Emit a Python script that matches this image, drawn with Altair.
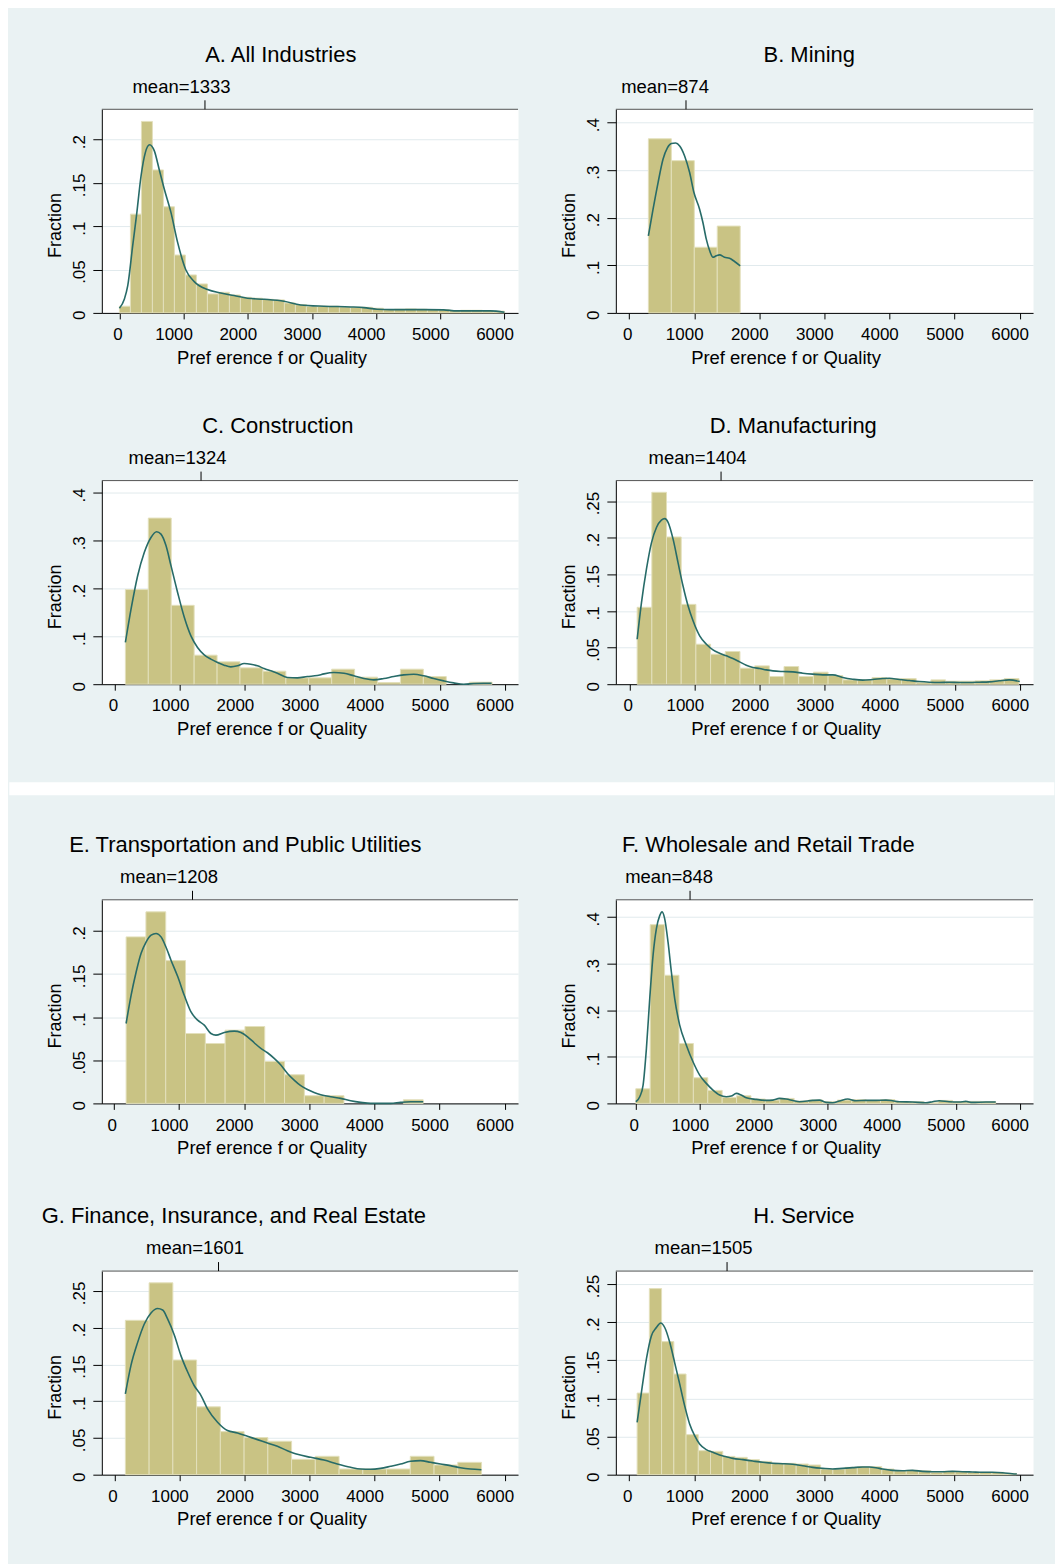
import altair as alt
import pandas as pd

FONT = "Liberation Sans"
BG = "#EAF2F3"
BAR_FILL = "#C9C384"
BAR_EDGE = "#E3E0BC"
KDE_COLOR = "#276B68"
GRID_COLOR = "#E1EAED"

titles = ["A. All Industries", "B. Mining", "C. Construction", "D. Manufacturing",
          "E. Transportation and Public Utilities", "F. Wholesale and Retail Trade",
          "G. Finance, Insurance, and Real Estate", "H. Service"]
means = [1333, 874, 1324, 1404, 1208, 848, 1601, 1505]
x_title = "Pref erence f or Quality"
y_title = "Fraction"
x_ticks = [0, 1000, 2000, 3000, 4000, 5000, 6000]

bin_starts = [0, 296, 159, 113, 189, 0, 169, 123]
bin_widths = [171.4, 352.8, 353, 226, 304, 225, 365, 188]

h_A = [0.0077, 0.114, 0.221, 0.165, 0.1225, 0.0668, 0.0438, 0.0334, 0.0219, 0.0238, 0.0207, 0.018,
       0.017, 0.0157, 0.015, 0.0115, 0.0096, 0.0077, 0.0077, 0.0077, 0.0069, 0.0065, 0.0065, 0.0054,
       0.0038, 0.0042, 0.0046, 0.0042, 0.0038, 0.0035, 0.0027, 0.003, 0.003, 0.0027, 0.002]
h_B = [0.366, 0.320, 0.138, 0.1825]
h_C = [0.198, 0.3475, 0.165, 0.0607, 0.0468, 0.0342, 0.0272, 0.0133, 0.0133, 0.0314, 0.0147, 0.0035,
       0.0314, 0.016, 0.0, 0.0042]
h_D = [0.105, 0.262, 0.201, 0.109, 0.0546, 0.041, 0.0446, 0.0219, 0.025, 0.0105, 0.0241, 0.0105,
       0.0164, 0.0118, 0.0059, 0.0059, 0.0091, 0.0073, 0.0077, 0.0023, 0.0059, 0.0041, 0.0041, 0.0046,
       0.0059, 0.0077]
h_E = [0.193, 0.222, 0.1655, 0.081, 0.0694, 0.0849, 0.0891, 0.0486, 0.0332, 0.0089, 0.0089, 0.0, 0.0,
       0.0, 0.0042]
h_F = [0.0314, 0.3836, 0.275, 0.1286, 0.055, 0.0279, 0.0129, 0.0164, 0.0093, 0.0071, 0.0107, 0.005,
       0.0071, 0.0036, 0.0071, 0.0079, 0.0064, 0.0079, 0.0036, 0.0036, 0.0014, 0.0064, 0.0036, 0.0043,
       0.0036]
h_G = [0.21, 0.261, 0.156, 0.0923, 0.0586, 0.0505, 0.0455, 0.0209, 0.025, 0.0077, 0.0077, 0.0077,
       0.025, 0.0132, 0.0168]
h_H = [0.107, 0.244, 0.1745, 0.132, 0.0525, 0.0315, 0.0306, 0.024, 0.0227, 0.0197, 0.0175, 0.0149,
       0.0149, 0.014, 0.0127, 0.0074, 0.0074, 0.0096, 0.0105, 0.0105, 0.0074, 0.0052, 0.0057, 0.0052,
       0.0031, 0.0044, 0.0039, 0.0031, 0.0031, 0.0031, 0.0017]

kx_A = [0, 78, 130, 207, 269, 337, 404, 471, 544, 622, 699, 803, 907, 1036, 1166, 1373, 1580, 1787,
        1995, 2254, 2565, 2824, 3186, 3601, 3808, 4015, 4223, 4741, 5051, 5259, 5777, 6000]
ky_A = [0.0054, 0.0161, 0.0315, 0.0776, 0.114, 0.158, 0.185, 0.194, 0.187, 0.165, 0.143, 0.116,
        0.0814, 0.0495, 0.0361, 0.0269, 0.0230, 0.0200, 0.0169, 0.0157, 0.0134, 0.0092, 0.0077,
        0.0069, 0.0061, 0.0042, 0.0038, 0.0038, 0.0035, 0.0023, 0.0023, 0.0008]
kx_B = [296, 368, 445, 521, 588, 649, 715, 777, 853, 930, 996, 1083, 1134, 1186, 1237, 1288, 1339,
        1390, 1467, 1543, 1620, 1707]
ky_B = [0.162, 0.218, 0.274, 0.323, 0.347, 0.356, 0.357, 0.351, 0.330, 0.295, 0.253, 0.218, 0.190,
        0.155, 0.131, 0.117, 0.120, 0.122, 0.117, 0.115, 0.108, 0.099]
kx_C = [159, 246, 348, 451, 553, 640, 707, 784, 861, 963, 1066, 1168, 1270, 1373, 1475, 1578, 1680,
        1783, 1885, 1988, 2090, 2193, 2295, 2398, 2500, 2654, 2807, 2961, 3115, 3217, 3371, 3525,
        3678, 3832, 3986, 4139, 4293, 4447, 4600, 4754, 4908, 5062, 5215, 5369, 5523, 5676, 5799]
ky_C = [0.0873, 0.157, 0.227, 0.276, 0.307, 0.319, 0.314, 0.290, 0.248, 0.192, 0.140, 0.101, 0.0768,
        0.0614, 0.0524, 0.0454, 0.0398, 0.0363, 0.0384, 0.0433, 0.0419, 0.0384, 0.0328, 0.0279,
        0.0230, 0.0140, 0.0133, 0.0161, 0.0181, 0.0216, 0.0244, 0.0230, 0.0175, 0.0119, 0.0091,
        0.0119, 0.0161, 0.0195, 0.0209, 0.0175, 0.0119, 0.0070, 0.0028, 0.0, 0.0014, 0.0021, 0.0021]
kx_D = [113, 179, 256, 333, 410, 486, 538, 589, 666, 742, 819, 896, 973, 1075, 1178, 1280, 1382,
        1485, 1587, 1690, 1792, 1894, 1997, 2099, 2202, 2355, 2509, 2662, 2816, 2970, 3123, 3277,
        3430, 3584, 3738, 3891, 3994, 4147, 4301, 4454, 4608, 4762, 4915, 5069, 5222, 5376, 5530,
        5683, 5837, 6001]
ky_D = [0.0614, 0.111, 0.157, 0.193, 0.214, 0.224, 0.226, 0.221, 0.198, 0.166, 0.134, 0.107, 0.0865,
        0.066, 0.0546, 0.0469, 0.0423, 0.0387, 0.035, 0.0305, 0.0259, 0.0228, 0.0214, 0.0196, 0.0182,
        0.0173, 0.0168, 0.0150, 0.0137, 0.0127, 0.0127, 0.0091, 0.0068, 0.0055, 0.0064, 0.0077,
        0.0082, 0.0064, 0.005, 0.0036, 0.0027, 0.0023, 0.0027, 0.0023, 0.0023, 0.0027, 0.0032,
        0.0046, 0.0059, 0.0036]
kx_E = [189, 266, 342, 419, 495, 572, 649, 725, 802, 878, 981, 1083, 1185, 1287, 1389, 1491, 1568,
        1696, 1849, 1951, 2053, 2155, 2257, 2359, 2462, 2564, 2666, 2768, 2870, 2972, 3074, 3177,
        3330, 3483, 3636, 3789, 3943, 4096, 4249, 4402, 4555, 4750]
ky_E = [0.0926, 0.1255, 0.152, 0.174, 0.187, 0.195, 0.197, 0.193, 0.181, 0.166, 0.147, 0.125, 0.106,
        0.0965, 0.0907, 0.081, 0.0791, 0.0822, 0.0838, 0.0822, 0.0772, 0.0703, 0.0637, 0.0587,
        0.0521, 0.0444, 0.0347, 0.027, 0.0205, 0.0162, 0.0127, 0.010, 0.0077, 0.0058, 0.0031, 0.0012,
        0.0, 0.0, 0.0, 0.0012, 0.0019, 0.0019]
kx_F = [0, 62, 114, 166, 218, 270, 322, 374, 411, 452, 504, 556, 608, 686, 790, 894, 998, 1102, 1206,
        1310, 1414, 1492, 1570, 1648, 1726, 1882, 2038, 2142, 2246, 2350, 2454, 2558, 2766, 2870,
        2974, 3078, 3182, 3312, 3442, 3598, 3754, 3910, 4014, 4118, 4326, 4534, 4638, 4742, 4898,
        5054, 5158, 5262, 5470, 5626]
ky_F = [0.0036, 0.0143, 0.0393, 0.118, 0.225, 0.318, 0.375, 0.403, 0.411, 0.396, 0.346, 0.282, 0.225,
        0.168, 0.125, 0.0893, 0.0607, 0.0429, 0.0286, 0.0179, 0.0143, 0.0157, 0.0214, 0.0179, 0.0121,
        0.0086, 0.0064, 0.0071, 0.0107, 0.0093, 0.0064, 0.0036, 0.0064, 0.0071, 0.0021, 0.0014,
        0.005, 0.0093, 0.0057, 0.0064, 0.0064, 0.0071, 0.0057, 0.0036, 0.0029, 0.0014, 0.0036,
        0.0057, 0.0036, 0.0029, 0.0043, 0.0021, 0.0029, 0.0029]
kx_G = [169, 256, 358, 460, 563, 665, 742, 818, 921, 1023, 1125, 1228, 1330, 1432, 1586, 1739, 1893,
        2046, 2199, 2353, 2506, 2660, 2813, 3018, 3222, 3427, 3632, 3785, 3939, 4092, 4245, 4399,
        4552, 4706, 4859, 5013, 5166, 5320, 5473, 5642]
ky_G = [0.110, 0.149, 0.180, 0.205, 0.220, 0.226, 0.224, 0.212, 0.190, 0.162, 0.140, 0.121, 0.108,
        0.0895, 0.0714, 0.060, 0.0568, 0.0523, 0.0477, 0.0432, 0.0386, 0.0327, 0.0277, 0.0236,
        0.020, 0.0145, 0.010, 0.0077, 0.0073, 0.0086, 0.0114, 0.0145, 0.0182, 0.0191, 0.0168,
        0.0145, 0.0123, 0.0095, 0.0077, 0.0068]
kx_H = [123, 189, 266, 342, 419, 485, 547, 623, 700, 777, 853, 930, 1007, 1083, 1186, 1288, 1390,
        1492, 1594, 1748, 1901, 2054, 2208, 2361, 2514, 2667, 2821, 2974, 3127, 3281, 3434, 3587,
        3689, 3792, 3894, 4047, 4200, 4354, 4507, 4660, 4814, 4967, 5120, 5274, 5427, 5580, 5734,
        5887, 5958]
ky_H = [0.0687, 0.108, 0.152, 0.182, 0.193, 0.199, 0.193, 0.174, 0.147, 0.119, 0.0905, 0.0665,
        0.0512, 0.0402, 0.0328, 0.0293, 0.0258, 0.0236, 0.0214, 0.0197, 0.0179, 0.0162, 0.0149,
        0.0144, 0.0136, 0.0118, 0.0096, 0.0083, 0.0074, 0.0083, 0.0092, 0.0101, 0.0101, 0.0092,
        0.0074, 0.0057, 0.0052, 0.0057, 0.0044, 0.0039, 0.0039, 0.0044, 0.0039, 0.0035, 0.0031,
        0.0031, 0.0026, 0.0013, 0.0009]

heights = [h_A, h_B, h_C, h_D, h_E, h_F, h_G, h_H]
kde_x = [kx_A, kx_B, kx_C, kx_D, kx_E, kx_F, kx_G, kx_H]
kde_y = [ky_A, ky_B, ky_C, ky_D, ky_E, ky_F, ky_G, ky_H]

x_domains = [[-274, 6211], [-204, 6207], [-204, 6206], [-215, 6205],
             [-184, 6205], [-312, 6209], [-193, 6205], [-204, 6207]]
y_domains = [[0, 0.235], [0, 0.428], [0, 0.426], [0, 0.278],
             [0, 0.236], [0, 0.437], [0, 0.277], [0, 0.267]]
yt_05 = [0, 0.05, 0.1, 0.15, 0.2]
yt_10 = [0, 0.1, 0.2, 0.3, 0.4]
yt_25 = [0, 0.05, 0.1, 0.15, 0.2, 0.25]
y_ticks = [yt_05, yt_10, yt_10, yt_25, yt_05, yt_10, yt_25, yt_25]

PLOT_H = 204
widths = [417, 418]
title_x = [179.3, 193.8, 176.3, 177.8, 143.8, 152.8, 132.3, 188.3]
TITLE_Y = -47.7
TOP_SPACE = 99


def panel(i):
    w = widths[i % 2]
    xs = alt.Scale(domain=x_domains[i], nice=False, zero=False)
    ys = alt.Scale(domain=y_domains[i], nice=False, zero=True)
    edges = [bin_starts[i] + k * bin_widths[i] for k in range(len(heights[i]) + 1)]
    bars_df = pd.DataFrame({"x0": edges[:-1], "x1": edges[1:], "h": heights[i]})
    bars_df = bars_df[bars_df["h"] > 0]
    kde_df = pd.DataFrame({"x": kde_x[i], "y": kde_y[i]})
    mean_df = pd.DataFrame({"m": [means[i]], "label": [f"mean={means[i]}"]})

    x_axis = alt.Axis(
        orient="bottom", values=x_ticks, format="d", grid=False,
        tickSize=6, tickColor="black", domainColor="black", domainWidth=1,
        labelFont=FONT, labelFontSize=17, labelColor="black",
        labelBaseline="alphabetic", labelPadding=20.7,
        labelOffset={"condition": {"test": "datum.value == 0", "value": -2}, "value": -10},
        labelFlush=False, labelOverlap=False,
        title=x_title, titleFont=FONT, titleFontSize=18.5, titleFontWeight="normal",
        titleColor="black", titleAlign="center", titleBaseline="alphabetic",
        titleX=170, titleY=50.3,
    )
    y_axis = alt.Axis(
        orient="left", values=y_ticks[i],
        labelExpr="datum.value == 0 ? '0' : replace(format(datum.value, '.2~f'), '0.', '.')",
        grid=True, gridColor=GRID_COLOR, gridWidth=1,
        tickSize=9, tickColor="black", domainColor="black", domainWidth=1,
        labelFont=FONT, labelFontSize=17, labelColor="black",
        labelAngle=270, labelAlign="center", labelBaseline="alphabetic", labelPadding=8.4,
        labelOffset=2,
        labelFlush=False, labelOverlap=False,
        title=y_title, titleFont=FONT, titleFontSize=18, titleFontWeight="normal",
        titleColor="black", titleAngle=270, titleAlign="center", titleBaseline="alphabetic",
        titleX=-41.4, titleY=116,
    )

    bars = alt.Chart(bars_df).mark_bar(
        fill=BAR_FILL, stroke=BAR_EDGE, strokeWidth=1
    ).encode(
        x=alt.X("x0:Q", scale=xs, axis=x_axis),
        x2="x1:Q",
        y=alt.Y("h:Q", scale=ys, axis=y_axis),
        y2=alt.datum(0),
    )
    line = alt.Chart(kde_df).mark_line(
        color=KDE_COLOR, strokeWidth=1.6, interpolate="monotone"
    ).encode(
        x=alt.X("x:Q", scale=xs),
        y=alt.Y("y:Q", scale=ys),
    )
    top_line = alt.Chart(alt.Data(values=[{"a": 0}])).mark_rule(
        color="#555555", strokeWidth=1
    ).encode(
        x=alt.value(0), x2=alt.value(w), y=alt.value(0)
    )
    mean_tick = alt.Chart(mean_df).mark_rule(color="black", strokeWidth=1).encode(
        x=alt.X("m:Q", scale=xs), y=alt.value(-9), y2=alt.value(0)
    )
    mean_text = alt.Chart(mean_df).mark_text(
        font=FONT, fontSize=18.5, color="black", align="center", baseline="alphabetic",
        dx=-21 if means[i] < 1000 else -23.5
    ).encode(
        x=alt.X("m:Q", scale=xs), y=alt.value(-16.7), text="label:N"
    )
    title = alt.Chart(pd.DataFrame({"t": [titles[i]]})).mark_text(
        font=FONT, fontSize=22, color="black", align="center", baseline="alphabetic"
    ).encode(
        x=alt.value(title_x[i]), y=alt.value(TITLE_Y), text="t:N"
    )
    return alt.layer(bars, line, top_line, mean_tick, mean_text, title).properties(
        width=w, height=PLOT_H
    )


def spacer(h, rect=None):
    view = alt.ViewBackground(fill="transparent", stroke="transparent")
    if rect is None:
        return alt.Chart(alt.Data(values=[{"a": 0}])).mark_point(opacity=0).encode(
            x=alt.value(0), y=alt.value(h / 2)
        ).properties(width=1, height=h, view=view)
    fill, opacity, y0, y1 = rect
    return alt.Chart(alt.Data(values=[{"a": 0}])).mark_rect(
        fill=fill, opacity=opacity
    ).encode(
        x=alt.value(-92.7), x2=alt.value(954.3), y=alt.value(y0), y2=alt.value(y1)
    ).properties(width=1, height=h, view=view)


cells = [
    spacer(TOP_SPACE, (BG, 1, 0, TOP_SPACE)), spacer(TOP_SPACE),
    panel(0), panel(1),
    spacer(167.7), spacer(167.7),
    panel(2), panel(3),
    spacer(215.3, ("white", 1, 98.3, 111.3)), spacer(215.3),
    panel(4), panel(5),
    spacer(167.3), spacer(167.3),
    panel(6), panel(7),
    spacer(86.7, (BG, 0, 0, 86.7)), spacer(86.7),
]

chart = alt.concat(
    *cells, columns=2, spacing={"row": 0, "column": 98}, bounds="flush", align="each"
).properties(
    padding=0, background=BG
).configure_view(
    fill="white", stroke="transparent"
)

chart.save("out.html", embed_options={"renderer": "svg", "actions": False})
